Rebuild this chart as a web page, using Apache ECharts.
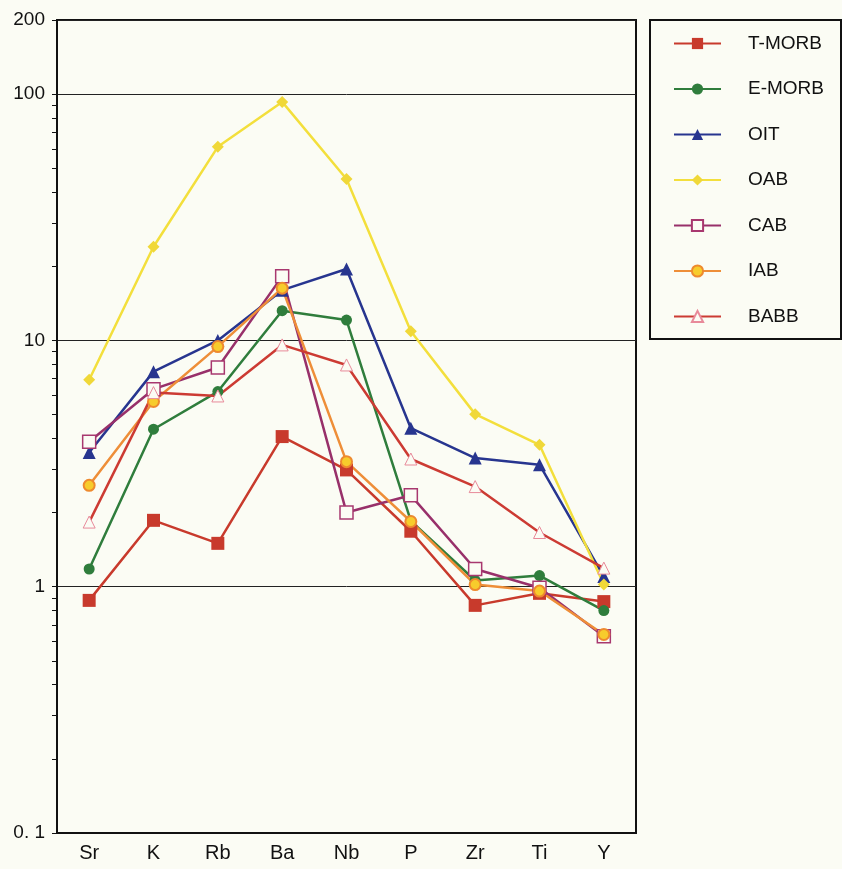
<!DOCTYPE html>
<html>
<head>
<meta charset="utf-8">
<script src="https://cdn.jsdelivr.net/npm/echarts@6/dist/echarts.min.js"></script>
<style>
html, body { margin: 0; padding: 0; background: #fbfcf4; }
#main { width: 842px; height: 869px; }
</style>
</head>
<body>
<div id="main"></div>
<script>
var elements = ['Sr', 'K', 'Rb', 'Ba', 'Nb', 'P', 'Zr', 'Ti', 'Y'];

var tMorb = [0.88, 1.86, 1.50, 4.07, 2.98, 1.68, 0.84, 0.94, 0.87];
var eMorb = [1.18, 4.36, 6.2, 13.2, 12.1, 1.85, 1.06, 1.11, 0.80];
var oit   = [3.51, 7.47, 10.0, 16.0, 19.5, 4.40, 3.33, 3.13, 1.10];
var oab   = [6.92, 24.0, 61.1, 93.0, 45.2, 10.9, 5.02, 3.77, 1.02];
var cab   = [3.88, 6.34, 7.76, 18.2, 2.00, 2.35, 1.18, 0.99, 0.63];
var iab   = [2.58, 5.65, 9.44, 16.3, 3.22, 1.84, 1.02, 0.96, 0.64];
var babb  = [1.83, 6.14, 5.95, 9.59, 7.95, 3.30, 2.55, 1.66, 1.19];

var minorTicks = [0.2, 0.3, 0.4, 0.5, 0.6, 0.7, 0.8, 0.9,
	2, 3, 4, 5, 6, 7, 8, 9,
	20, 30, 40, 50, 60, 70, 80, 90];

var bg = '#fbfcf4';
var font = 'Liberation Sans';

var myChart = echarts.init(document.getElementById('main'));

function line(name, data, symbol, size, lineColor, fill, border, bw) {
	return {
		name: name,
		type: 'line',
		data: data,
		symbol: symbol,
		symbolSize: size,
		lineStyle: { color: lineColor, width: 2.5 },
		itemStyle: { color: fill, borderColor: border, borderWidth: bw },
		emphasis: { disabled: true }
	};
}

var option = {
	backgroundColor: bg,
	animation: false,
	textStyle: { fontFamily: font },
	grid: {
		left: 57, right: 206, top: 20, bottom: 36,
		show: true, borderColor: '#111', borderWidth: 2, backgroundColor: bg
	},
	legend: {
		orient: 'vertical',
		left: 650, top: 20,
		padding: [14, 17, 13, 23],
		itemWidth: 47, itemHeight: 14, itemGap: 26.5,
		borderColor: '#111', borderWidth: 2,
		backgroundColor: bg,
		textStyle: { fontSize: 19, color: '#111', padding: [0, 0, 0, 22] },
		data: ['T-MORB', 'E-MORB', 'OIT', 'OAB', 'CAB', 'IAB', 'BABB']
	},
	xAxis: {
		type: 'category',
		data: elements,
		boundaryGap: true,
		axisLine: { lineStyle: { color: '#111', width: 2 } },
		axisTick: { alignWithLabel: true, length: 5, lineStyle: { color: '#111' } },
		axisLabel: { fontSize: 20, color: '#111', margin: 10 }
	},
	yAxis: [{
		type: 'log',
		logBase: 10,
		min: 0.1,
		max: 200,
		axisLine: { show: true, lineStyle: { color: '#111', width: 2 } },
		axisTick: { show: true, length: 5, lineStyle: { color: '#111' } },
		axisLabel: {
			fontSize: 19, color: '#111', margin: 12,
			formatter: function (v) { return v === 0.1 ? '0. 1' : String(v); }
		},
		splitLine: { show: true, lineStyle: { color: '#222', width: 1 } }
	}, {
		type: 'log',
		logBase: 10,
		min: 0.1,
		max: 200,
		position: 'left',
		axisLine: { show: false },
		axisLabel: { show: false },
		splitLine: { show: false },
		axisTick: { show: true, length: 5, customValues: minorTicks, lineStyle: { color: '#111' } }
	}],
	series: [
		line('T-MORB', tMorb, 'rect', 13, '#c83a2c', '#c83a2c', '#c83a2c', 0),
		line('E-MORB', eMorb, 'circle', 11, '#2f7d3c', '#2f7d3c', '#2f7d3c', 0),
		line('OIT', oit, 'triangle', 13, '#27358f', '#27358f', '#27358f', 0),
		line('OAB', oab, 'diamond', 12, '#f3df3c', '#f0d838', '#f0d838', 0),
		line('CAB', cab, 'rect', 13, '#98306a', bg, '#a8386f', 1.5),
		line('IAB', iab, 'circle', 11, '#ee8e38', '#f7cc2c', '#ee8a2e', 2),
		line('BABB', babb, 'triangle', 12, '#cc3b33', bg, '#e88a9a', 1)
	]
};

myChart.setOption(option);
</script>
</body>
</html>
